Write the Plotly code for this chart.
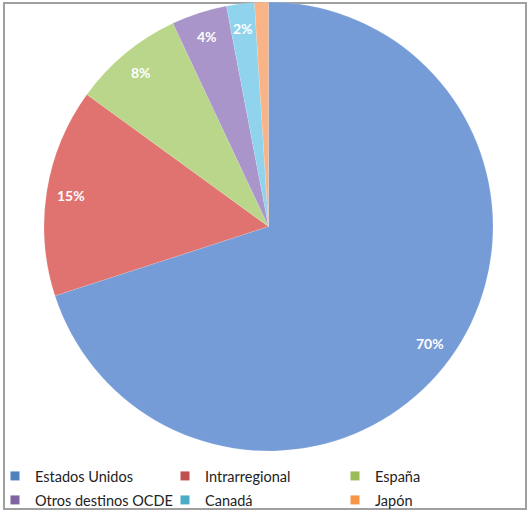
import math
import plotly.graph_objects as go

categories = ["Estados Unidos", "Intrarregional", "España", "Otros destinos OCDE", "Canadá", "Japón"]
values = [70, 15, 8, 4, 2, 1]
labels_text = ["70%", "15%", "8%", "4%", "2%", ""]
colors = ["#769cd8", "#e0736f", "#b9d68a", "#a995c9", "#8fd3ec", "#f8b486"]
legend_colors = ["#4f81bd", "#c0504d", "#9bbb59", "#8064a2", "#4bacc6", "#f79646"]

W, H = 529, 512
cx, cy, R = 268.5, 226.5, 224.5
FONT = "Lato, Open Sans, sans-serif"

fig = go.Figure()
fig.add_trace(go.Pie(
    labels=categories,
    values=values,
    sort=False,
    direction="clockwise",
    rotation=0,
    marker=dict(colors=colors, line=dict(color="rgba(255,255,255,0.4)", width=0.3)),
    textinfo="none",
    hoverinfo="label+percent",
    showlegend=False,
    domain=dict(x=[(cx - R) / W, (cx + R) / W], y=[1 - (cy + R) / H, 1 - (cy - R) / H]),
))

# legend: one legend per entry, laid out in a 3x2 grid
legend_layouts = {}
for i, (name, col) in enumerate(zip(categories, legend_colors)):
    key = "legend" if i == 0 else f"legend{i + 1}"
    fig.add_trace(go.Scatter(
        x=[None], y=[None], mode="markers", name=name,
        marker=dict(symbol="square", size=9, color=col),
        showlegend=True,
        legend=key,
    ))
    colx = (i % 3) * 170 - 5
    rowy = 476 + (i // 3) * 24
    legend_layouts[key] = dict(
        x=colx / W, y=1 - rowy / H, xanchor="left", yanchor="middle",
        orientation="h", itemwidth=30,
        font=dict(family=FONT, size=14.5, color="#222222"),
        bgcolor="rgba(0,0,0,0)",
    )

# data labels positioned from cumulative values
total = sum(values)
cum = 0
annotations = []
for v, t in zip(values, labels_text):
    mid = (cum + v / 2) / total * 2 * math.pi
    cum += v
    if not t:
        continue
    f = 0.89
    px = cx + R * f * math.sin(mid)
    py = cy - R * f * math.cos(mid)
    annotations.append(dict(
        x=px / W, y=1 - py / H, xref="paper", yref="paper",
        xanchor="center", yanchor="middle",
        text=f"<b>{t}</b>", showarrow=False,
        font=dict(family=FONT, size=14, color="white"),
    ))

fig.update_layout(
    width=W, height=H,
    margin=dict(l=0, r=0, t=0, b=0, autoexpand=False),
    paper_bgcolor="white",
    plot_bgcolor="white",
    xaxis=dict(visible=False),
    yaxis=dict(visible=False),
    annotations=annotations,
    shapes=[dict(
        type="rect", xref="paper", yref="paper",
        x0=4 / W, x1=1 - 3 / W, y0=3 / H, y1=1 - 3 / H,
        line=dict(color="#a0a0a0", width=2), layer="below",
    )],
    **legend_layouts,
)

fig.write_html("out.html", config={"displayModeBar": False},
               post_script="document.body.style.margin='0';")
